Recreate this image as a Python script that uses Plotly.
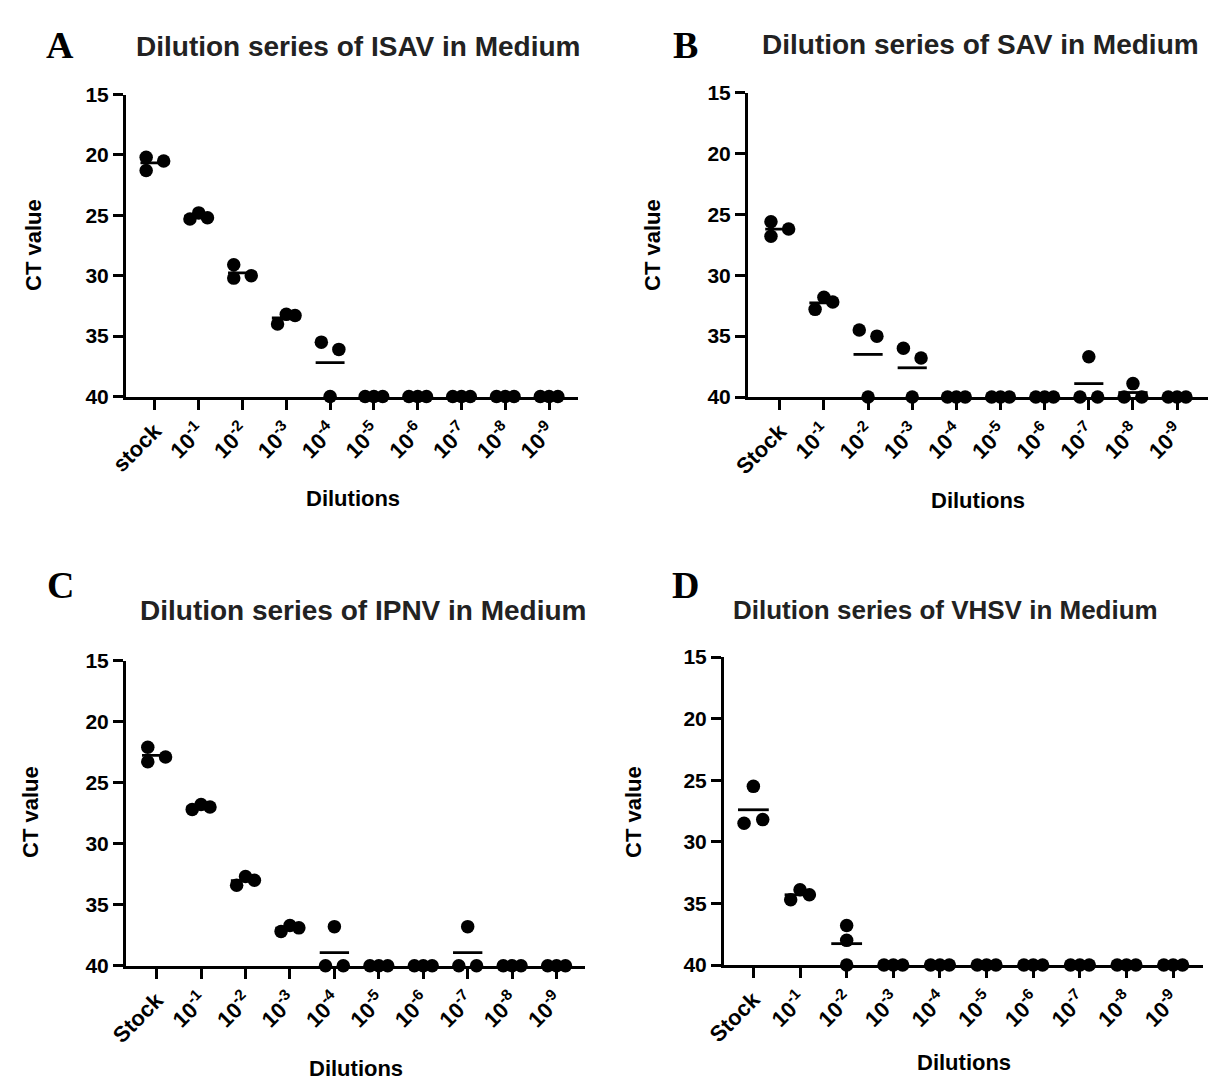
import plotly.graph_objects as go

W, H = 1217, 1080

# ---------------- data ----------------
labels_a = ["stock", "10<sup>-1</sup>", "10<sup>-2</sup>", "10<sup>-3</sup>", "10<sup>-4</sup>",
            "10<sup>-5</sup>", "10<sup>-6</sup>", "10<sup>-7</sup>", "10<sup>-8</sup>", "10<sup>-9</sup>"]
labels_bcd = ["Stock"] + labels_a[1:]

isav_ct = [
    [20.2, 21.3, 20.5],
    [25.3, 24.8, 25.2],
    [29.1, 30.2, 30.0],
    [34.0, 33.2, 33.3],
    [35.5, 36.1, 40.0],
    [40.0, 40.0, 40.0],
    [40.0, 40.0, 40.0],
    [40.0, 40.0, 40.0],
    [40.0, 40.0, 40.0],
    [40.0, 40.0, 40.0],
]
sav_ct = [
    [25.6, 26.8, 26.2],
    [32.8, 31.8, 32.2],
    [34.5, 35.0, 40.0],
    [36.0, 36.8, 40.0],
    [40.0, 40.0, 40.0],
    [40.0, 40.0, 40.0],
    [40.0, 40.0, 40.0],
    [36.7, 40.0, 40.0],
    [40.0, 38.9, 40.0],
    [40.0, 40.0, 40.0],
]
ipnv_ct = [
    [22.1, 23.3, 22.9],
    [27.2, 26.8, 27.0],
    [33.4, 32.7, 33.0],
    [37.2, 36.7, 36.9],
    [36.8, 40.0, 40.0],
    [40.0, 40.0, 40.0],
    [40.0, 40.0, 40.0],
    [36.8, 40.0, 40.0],
    [40.0, 40.0, 40.0],
    [40.0, 40.0, 40.0],
]
vhsv_ct = [
    [25.5, 28.5, 28.2],
    [34.7, 33.9, 34.3],
    [36.8, 38.0, 40.0],
    [40.0, 40.0, 40.0],
    [40.0, 40.0, 40.0],
    [40.0, 40.0, 40.0],
    [40.0, 40.0, 40.0],
    [40.0, 40.0, 40.0],
    [40.0, 40.0, 40.0],
    [40.0, 40.0, 40.0],
]
y_ticks = [15, 20, 25, 30, 35, 40]
titles = ["Dilution series of ISAV in Medium", "Dilution series of SAV in Medium",
          "Dilution series of IPNV in Medium", "Dilution series of VHSV in Medium"]
letters = ["A", "B", "C", "D"]

# ---------------- jitter (collision based, like a scatter dot plot) ----------------
COLL = 1.05
COLS = {1: [0.0], 2: [-0.2, 0.2], 3: [-0.2, 0.0, 0.2]}


def jitter(vals):
    n = len(vals)
    comp = list(range(n))

    def find(i):
        while comp[i] != i:
            i = comp[i]
        return i
    for i in range(n):
        for j in range(i + 1, n):
            if abs(vals[i] - vals[j]) < COLL:
                comp[find(j)] = find(i)
    offs = [0.0] * n
    groups = {}
    for i in range(n):
        groups.setdefault(find(i), []).append(i)
    for members in groups.values():
        colour = {}
        for i in members:
            used = {colour[j] for j in colour if abs(vals[i] - vals[j]) < COLL}
            c = 0
            while c in used:
                c += 1
            colour[i] = c
        k = max(colour.values()) + 1
        for i in members:
            offs[i] = COLS[k][colour[i]]
    return offs


# ---------------- layout helpers ----------------
def px(x):
    return x / W


def py(y):
    return 1 - y / H


panels = [
    dict(data=isav_ct, labels=labels_a, xd=(126, 578), yd=(94.5, 396.5), xr=(-0.66, 9.66),
         title=(358, 46, 28), letter=(60, 45), ylab=(33, 245), xlab=(353, 498)),
    dict(data=sav_ct, labels=labels_bcd, xd=(748, 1208), yd=(92.7, 397), xr=(-0.72, 9.70),
         title=(980, 44, 28), letter=(685, 45), ylab=(652, 245), xlab=(978, 500)),
    dict(data=ipnv_ct, labels=labels_bcd, xd=(126, 585), yd=(660.5, 965.7), xr=(-0.69, 9.64),
         title=(363, 610, 28), letter=(60, 585), ylab=(30, 812), xlab=(356, 1068)),
    dict(data=vhsv_ct, labels=labels_bcd, xd=(724, 1203), yd=(657, 965), xr=(-0.63, 9.64),
         title=(945, 610, 26), letter=(685, 585), ylab=(633, 812), xlab=(964, 1062)),
]

FONT = "Liberation Sans, Arial, sans-serif"
fig = go.Figure()
annotations = []
layout = {}

for k, p in enumerate(panels):
    sfx = "" if k == 0 else str(k + 1)
    xa, ya = "x" + sfx, "y" + sfx
    lx, ly = [], []
    mx, my = [], []
    for i, vals in enumerate(p["data"]):
        m = sum(vals) / len(vals)
        lx += [i - 0.33, i + 0.33, None]
        ly += [m, m, None]
        for v, o in zip(vals, jitter(vals)):
            mx.append(i + o)
            my.append(v)
    fig.add_trace(go.Scatter(x=lx, y=ly, mode="lines", line=dict(color="black", width=2.8),
                             xaxis=xa, yaxis=ya, showlegend=False, cliponaxis=False, hoverinfo="skip"))
    fig.add_trace(go.Scatter(x=mx, y=my, mode="markers", marker=dict(color="black", size=13.5, line=dict(width=0)),
                             xaxis=xa, yaxis=ya, showlegend=False, cliponaxis=False))
    layout["xaxis" + sfx] = dict(
        domain=[px(p["xd"][0]), px(p["xd"][1])], range=list(p["xr"]), anchor=ya, automargin=False,
        tickmode="array", tickvals=list(range(10)), ticktext=p["labels"], tickangle=-45,
        ticks="outside", ticklen=10, tickwidth=3, tickcolor="black",
        showline=True, linewidth=3, linecolor="black", showgrid=False, zeroline=False,
        tickfont=dict(family=FONT, size=22, color="black", weight="bold"))
    layout["yaxis" + sfx] = dict(
        domain=[py(p["yd"][1]), py(p["yd"][0])], range=[40, 15], anchor=xa, automargin=False,
        tickmode="array", tickvals=y_ticks, ticks="outside", ticklen=10, tickwidth=3, tickcolor="black",
        showline=True, linewidth=3, linecolor="black", showgrid=False, zeroline=False,
        tickfont=dict(family=FONT, size=21, color="black", weight="bold"))
    tx, ty, ts = p["title"]
    annotations.append(dict(text=titles[k], x=px(tx), y=py(ty), xref="paper", yref="paper",
                            showarrow=False, xanchor="center", yanchor="middle",
                            font=dict(family=FONT, size=ts, color="#222222", weight="bold")))
    lx_, ly_ = p["letter"]
    annotations.append(dict(text=letters[k], x=px(lx_), y=py(ly_), xref="paper", yref="paper",
                            showarrow=False, xanchor="center", yanchor="middle",
                            font=dict(family="Liberation Serif, Times New Roman, serif", size=38,
                                      color="black", weight="bold")))
    ax_, ay_ = p["ylab"]
    annotations.append(dict(text="CT value", x=px(ax_), y=py(ay_), xref="paper", yref="paper",
                            showarrow=False, xanchor="center", yanchor="middle", textangle=-90,
                            font=dict(family=FONT, size=22, color="black", weight="bold")))
    bx_, by_ = p["xlab"]
    annotations.append(dict(text="Dilutions", x=px(bx_), y=py(by_), xref="paper", yref="paper",
                            showarrow=False, xanchor="center", yanchor="middle",
                            font=dict(family=FONT, size=22, color="black", weight="bold")))

fig.update_layout(width=W, height=H, margin=dict(l=0, r=0, t=0, b=0, pad=0, autoexpand=False),
                  paper_bgcolor="white", plot_bgcolor="white",
                  annotations=annotations, **layout)
fig.write_html("out.html",
               post_script="document.body.style.margin='0';document.body.style.padding='0';"
                           "document.body.style.overflow='hidden';")
